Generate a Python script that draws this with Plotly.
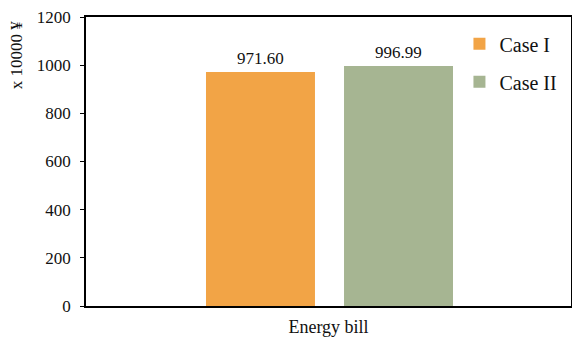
import plotly.graph_objects as go

categories = ["Energy bill"]
case1_values = [971.60]
case2_values = [996.99]
series_names = ["Case I", "Case II"]
y_ticks = [0, 200, 400, 600, 800, 1000, 1200]

colors = ["#F2A446", "#A6B592"]
serif = "Liberation Serif"

fig = go.Figure()
offsets = [-0.2526, 0.032]
bar_w = 0.2247
for name, vals, col, off in zip(series_names, [case1_values, case2_values], colors, offsets):
    fig.add_trace(go.Bar(
        x=categories, y=vals, name=name, marker=dict(color=col, line=dict(width=0)),
        width=bar_w, offset=off, legendgroup=name,
    ))

# value labels above bars
for vals, off in zip([case1_values, case2_values], offsets):
    for i, v in enumerate(vals):
        fig.add_annotation(
            x=i + off + bar_w / 2, y=v, xref="x", yref="y",
            text=f"{v:.2f}", showarrow=False, yanchor="bottom", yshift=2,
            font=dict(family=serif, size=17, color="#111"),
        )

# y-axis unit label
fig.add_annotation(
    x=-0.143, y=1.0, xref="paper", yref="paper", text="x 10000 ¥",
    textangle=-90, showarrow=False, xanchor="center", yanchor="top",
    yshift=-1, font=dict(family=serif, size=17, color="#111"),
)

fig.update_layout(
    width=572, height=338,
    margin=dict(l=86, r=1, t=17, b=32),
    paper_bgcolor="white", plot_bgcolor="white",
    showlegend=True,
    legend=dict(
        x=0.77, y=0.975, xanchor="left", yanchor="top",
        font=dict(family=serif, size=20, color="#111"),
        bgcolor="rgba(0,0,0,0)", tracegroupgap=9, traceorder="grouped",
        itemwidth=30,
    ),
    font=dict(family=serif, color="#111"),
)
fig.update_xaxes(
    type="category", range=[-0.5, 0.5], automargin=False,
    showline=True, linecolor="#000", linewidth=1.5, mirror=True,
    ticks="", showgrid=False,
    tickfont=dict(family=serif, size=18, color="#111"),
    ticklabelstandoff=4,
)
fig.update_yaxes(
    range=[0, 1200], tickvals=y_ticks, automargin=False,
    showline=True, linecolor="#000", linewidth=1.5, mirror=True,
    ticks="outside", ticklen=4, tickcolor="#000", showgrid=False, zeroline=False,
    tickfont=dict(family=serif, size=17, color="#111"),
    ticklabelstandoff=6,
)

fig.write_html("out.html")
